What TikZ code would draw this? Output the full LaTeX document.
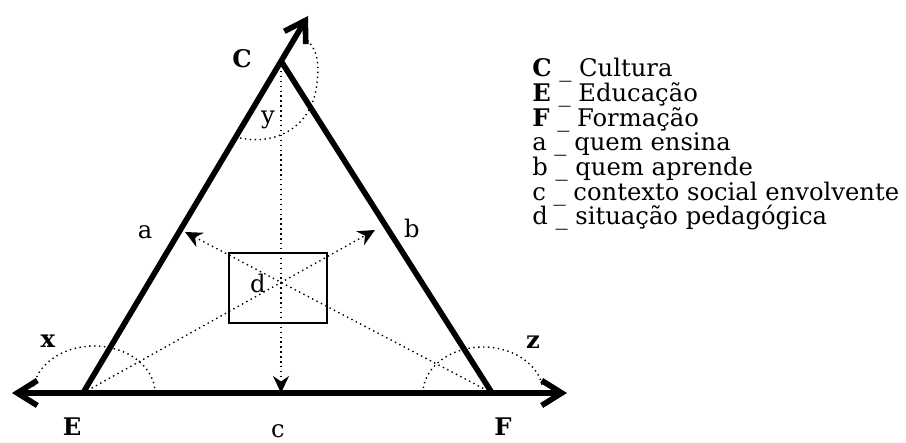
\documentclass[tikz,border=0pt]{standalone}
\usepackage{fontspec}
\setmainfont{DejaVu Serif}
\usepackage{tikz}
\usetikzlibrary{positioning, arrows.meta}

\begin{document}
\begin{tikzpicture}[
  every node/.style={font=\fontsize{13.8}{16}\selectfont, inner sep=0pt},
  side/.style={line width=3.2pt},
  barb/.tip={Straight Barb[length=4mm,width=5mm]},
  dots/.style={dotted, line width=0.8pt},
  darr/.style={dots, -{Stealth[length=3.4mm,width=3.2mm]}},
  leg/.style={anchor=base west}
]
  \useasboundingbox (0,0) rectangle (18.12,8.86);

  \coordinate (E)  at (1.66,1.0);
  \coordinate (F)  at (9.84,1.0);
  \coordinate (C)  at (5.62,7.64);
  \coordinate (Ct) at (6.16,8.54);
  \coordinate (El) at (0.24,1.0);
  \coordinate (Fr) at (11.34,1.0);
  \coordinate (c0) at (5.62,1.0);
  \coordinate (a0) at (3.70,4.22);
  \coordinate (b0) at (7.50,4.26);

  \draw[side, barb-barb] (El) -- (Fr);
  \draw[side, -barb] (E) -- (Ct);
  \draw[side] (C) -- (F);

  \draw[darr] (C) -- (c0);
  \draw[darr] (E) -- (b0);
  \draw[darr] (F) -- (a0);

  \draw[dots] ([xshift=1.44cm]E) arc[start angle=0, end angle=172, x radius=1.22cm, y radius=0.94cm];
  \draw[dots] ([xshift=-1.38cm]F) arc[start angle=180, end angle=6, x radius=1.2cm, y radius=0.92cm];
  \draw[dots] (4.80,6.10) .. controls (5.5,5.95) and (6.25,6.3) .. (6.34,7.2)
    .. controls (6.4,7.7) and (6.3,7.9) .. (6.14,8.06);

  \node[draw, line width=0.9pt, minimum width=1.96cm, minimum height=1.4cm] (sit) at (5.56,3.10) {};

  \node (lblC) at (4.84,7.68) {\textbf{C}};
  \node (lblE) at (1.44,0.32) {\textbf{E}};
  \node (lblF) at (10.06,0.32) {\textbf{F}};
  \node (lblx) at (0.96,2.04) {\textbf{x}};
  \node (lblz) at (10.66,2.02) {\textbf{z}};
  \node (lbly) at (5.36,6.46) {y};
  \node (lbla) at (2.90,4.22) {a};
  \node (lblb) at (8.24,4.30) {b};
  \node (lblc) at (5.56,0.24) {c};
  \node (lbld) at (5.16,3.20) {d};

  \node[leg] (lC) at (10.64,7.32) {\textbf{C} \_ Cultura};
  \node[below=4.93mm of lC.base west, leg] (lE) {\textbf{E} \_ Educação};
  \node[below=4.93mm of lE.base west, leg] (lF) {\textbf{F} \_ Formação};
  \node[below=4.93mm of lF.base west, leg] (la) {a \_ quem ensina};
  \node[below=4.93mm of la.base west, leg] (lb) {b \_ quem aprende};
  \node[below=4.93mm of lb.base west, leg] (lc) {c \_ contexto social envolvente};
  \node[below=4.93mm of lc.base west, leg] (ld) {d \_ situação pedagógica};
\end{tikzpicture}
\end{document}
